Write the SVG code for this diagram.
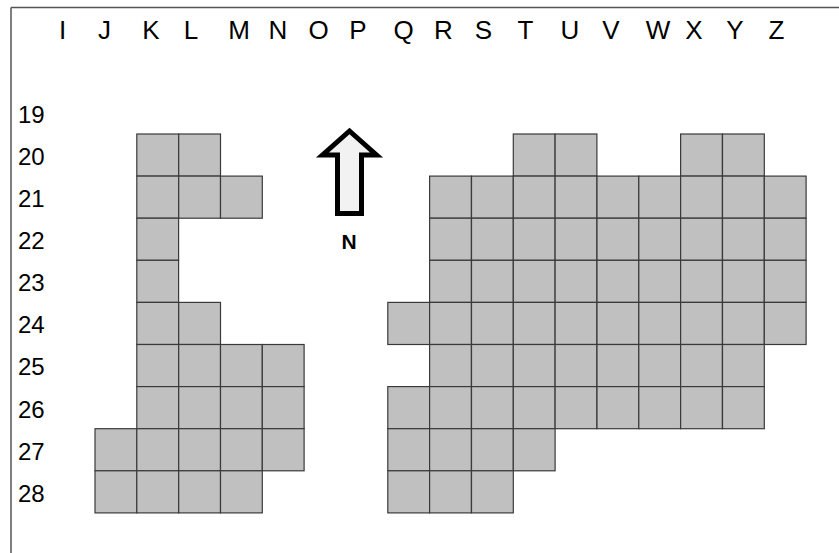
<svg xmlns="http://www.w3.org/2000/svg" width="839" height="553" viewBox="0 0 839 553">
<style>
  .c { fill: #c0c0c0; stroke: #3a3a3a; stroke-width: 1.2; }
  .h { font-family: "Liberation Sans", Arial, sans-serif; font-size: 26px; fill: #000; text-anchor: middle; }
  .r { font-family: "Liberation Sans", Arial, sans-serif; font-size: 24px; fill: #000; }
  .n { font-family: "Liberation Sans", Arial, sans-serif; font-size: 21px; font-weight: bold; fill: #000; text-anchor: middle; }
  .b { stroke: #555; stroke-width: 1.5; fill: none; }
</style>
<rect x="0" y="0" width="839" height="553" fill="#fff"/>
<g id="frame">
  <line class="b" x1="11" y1="7.5" x2="839" y2="7.5"/>
  <line class="b" x1="11" y1="7.5" x2="11" y2="553"/>
</g>
<g id="column-labels">
  <text class="h" x="62.5" y="39">I</text>
  <text class="h" x="104.5" y="39">J</text>
  <text class="h" x="151" y="39">K</text>
  <text class="h" x="191" y="39">L</text>
  <text class="h" x="239" y="39">M</text>
  <text class="h" x="278" y="39">N</text>
  <text class="h" x="318.5" y="39">O</text>
  <text class="h" x="358" y="39">P</text>
  <text class="h" x="403.5" y="39">Q</text>
  <text class="h" x="443.5" y="39">R</text>
  <text class="h" x="483.5" y="39">S</text>
  <text class="h" x="525.5" y="39">T</text>
  <text class="h" x="570" y="39">U</text>
  <text class="h" x="611" y="39">V</text>
  <text class="h" x="658" y="39">W</text>
  <text class="h" x="694" y="39">X</text>
  <text class="h" x="735" y="39">Y</text>
  <text class="h" x="776.5" y="39">Z</text>
</g>
<g id="row-labels">
  <text class="r" x="18" y="122.8">19</text>
  <text class="r" x="18" y="164.9">20</text>
  <text class="r" x="18" y="207">21</text>
  <text class="r" x="18" y="249.1">22</text>
  <text class="r" x="18" y="291.2">23</text>
  <text class="r" x="18" y="333.3">24</text>
  <text class="r" x="18" y="375.4">25</text>
  <text class="r" x="18" y="417.5">26</text>
  <text class="r" x="18" y="459.6">27</text>
  <text class="r" x="18" y="501.7">28</text>
</g>
<g id="left-block">
  <rect class="c" x="136.8" y="134" width="41.8" height="42.1"/>
  <rect class="c" x="178.7" y="134" width="41.8" height="42.1"/>
  <rect class="c" x="136.8" y="176.1" width="41.8" height="42.1"/>
  <rect class="c" x="178.7" y="176.1" width="41.8" height="42.1"/>
  <rect class="c" x="220.5" y="176.1" width="41.8" height="42.1"/>
  <rect class="c" x="136.8" y="218.2" width="41.8" height="42.1"/>
  <rect class="c" x="136.8" y="260.3" width="41.8" height="42.1"/>
  <rect class="c" x="136.8" y="302.4" width="41.8" height="42.1"/>
  <rect class="c" x="178.7" y="302.4" width="41.8" height="42.1"/>
  <rect class="c" x="136.8" y="344.5" width="41.8" height="42.1"/>
  <rect class="c" x="178.7" y="344.5" width="41.8" height="42.1"/>
  <rect class="c" x="220.5" y="344.5" width="41.8" height="42.1"/>
  <rect class="c" x="262.3" y="344.5" width="41.8" height="42.1"/>
  <rect class="c" x="136.8" y="386.6" width="41.8" height="42.1"/>
  <rect class="c" x="178.7" y="386.6" width="41.8" height="42.1"/>
  <rect class="c" x="220.5" y="386.6" width="41.8" height="42.1"/>
  <rect class="c" x="262.3" y="386.6" width="41.8" height="42.1"/>
  <rect class="c" x="95" y="428.7" width="41.8" height="42.1"/>
  <rect class="c" x="136.8" y="428.7" width="41.8" height="42.1"/>
  <rect class="c" x="178.7" y="428.7" width="41.8" height="42.1"/>
  <rect class="c" x="220.5" y="428.7" width="41.8" height="42.1"/>
  <rect class="c" x="262.3" y="428.7" width="41.8" height="42.1"/>
  <rect class="c" x="95" y="470.8" width="41.8" height="42.1"/>
  <rect class="c" x="136.8" y="470.8" width="41.8" height="42.1"/>
  <rect class="c" x="178.7" y="470.8" width="41.8" height="42.1"/>
  <rect class="c" x="220.5" y="470.8" width="41.8" height="42.1"/>
</g>
<g id="right-block">
  <rect class="c" x="513.3" y="134" width="41.8" height="42.1"/>
  <rect class="c" x="555.1" y="134" width="41.8" height="42.1"/>
  <rect class="c" x="680.6" y="134" width="41.8" height="42.1"/>
  <rect class="c" x="722.5" y="134" width="41.8" height="42.1"/>
  <rect class="c" x="429.6" y="176.1" width="41.8" height="42.1"/>
  <rect class="c" x="471.5" y="176.1" width="41.8" height="42.1"/>
  <rect class="c" x="513.3" y="176.1" width="41.8" height="42.1"/>
  <rect class="c" x="555.1" y="176.1" width="41.8" height="42.1"/>
  <rect class="c" x="597" y="176.1" width="41.8" height="42.1"/>
  <rect class="c" x="638.8" y="176.1" width="41.8" height="42.1"/>
  <rect class="c" x="680.6" y="176.1" width="41.8" height="42.1"/>
  <rect class="c" x="722.5" y="176.1" width="41.8" height="42.1"/>
  <rect class="c" x="764.3" y="176.1" width="41.8" height="42.1"/>
  <rect class="c" x="429.6" y="218.2" width="41.8" height="42.1"/>
  <rect class="c" x="471.5" y="218.2" width="41.8" height="42.1"/>
  <rect class="c" x="513.3" y="218.2" width="41.8" height="42.1"/>
  <rect class="c" x="555.1" y="218.2" width="41.8" height="42.1"/>
  <rect class="c" x="597" y="218.2" width="41.8" height="42.1"/>
  <rect class="c" x="638.8" y="218.2" width="41.8" height="42.1"/>
  <rect class="c" x="680.6" y="218.2" width="41.8" height="42.1"/>
  <rect class="c" x="722.5" y="218.2" width="41.8" height="42.1"/>
  <rect class="c" x="764.3" y="218.2" width="41.8" height="42.1"/>
  <rect class="c" x="429.6" y="260.3" width="41.8" height="42.1"/>
  <rect class="c" x="471.5" y="260.3" width="41.8" height="42.1"/>
  <rect class="c" x="513.3" y="260.3" width="41.8" height="42.1"/>
  <rect class="c" x="555.1" y="260.3" width="41.8" height="42.1"/>
  <rect class="c" x="597" y="260.3" width="41.8" height="42.1"/>
  <rect class="c" x="638.8" y="260.3" width="41.8" height="42.1"/>
  <rect class="c" x="680.6" y="260.3" width="41.8" height="42.1"/>
  <rect class="c" x="722.5" y="260.3" width="41.8" height="42.1"/>
  <rect class="c" x="764.3" y="260.3" width="41.8" height="42.1"/>
  <rect class="c" x="387.8" y="302.4" width="41.8" height="42.1"/>
  <rect class="c" x="429.6" y="302.4" width="41.8" height="42.1"/>
  <rect class="c" x="471.5" y="302.4" width="41.8" height="42.1"/>
  <rect class="c" x="513.3" y="302.4" width="41.8" height="42.1"/>
  <rect class="c" x="555.1" y="302.4" width="41.8" height="42.1"/>
  <rect class="c" x="597" y="302.4" width="41.8" height="42.1"/>
  <rect class="c" x="638.8" y="302.4" width="41.8" height="42.1"/>
  <rect class="c" x="680.6" y="302.4" width="41.8" height="42.1"/>
  <rect class="c" x="722.5" y="302.4" width="41.8" height="42.1"/>
  <rect class="c" x="764.3" y="302.4" width="41.8" height="42.1"/>
  <rect class="c" x="429.6" y="344.5" width="41.8" height="42.1"/>
  <rect class="c" x="471.5" y="344.5" width="41.8" height="42.1"/>
  <rect class="c" x="513.3" y="344.5" width="41.8" height="42.1"/>
  <rect class="c" x="555.1" y="344.5" width="41.8" height="42.1"/>
  <rect class="c" x="597" y="344.5" width="41.8" height="42.1"/>
  <rect class="c" x="638.8" y="344.5" width="41.8" height="42.1"/>
  <rect class="c" x="680.6" y="344.5" width="41.8" height="42.1"/>
  <rect class="c" x="722.5" y="344.5" width="41.8" height="42.1"/>
  <rect class="c" x="387.8" y="386.6" width="41.8" height="42.1"/>
  <rect class="c" x="429.6" y="386.6" width="41.8" height="42.1"/>
  <rect class="c" x="471.5" y="386.6" width="41.8" height="42.1"/>
  <rect class="c" x="513.3" y="386.6" width="41.8" height="42.1"/>
  <rect class="c" x="555.1" y="386.6" width="41.8" height="42.1"/>
  <rect class="c" x="597" y="386.6" width="41.8" height="42.1"/>
  <rect class="c" x="638.8" y="386.6" width="41.8" height="42.1"/>
  <rect class="c" x="680.6" y="386.6" width="41.8" height="42.1"/>
  <rect class="c" x="722.5" y="386.6" width="41.8" height="42.1"/>
  <rect class="c" x="387.8" y="428.7" width="41.8" height="42.1"/>
  <rect class="c" x="429.6" y="428.7" width="41.8" height="42.1"/>
  <rect class="c" x="471.5" y="428.7" width="41.8" height="42.1"/>
  <rect class="c" x="513.3" y="428.7" width="41.8" height="42.1"/>
  <rect class="c" x="387.8" y="470.8" width="41.8" height="42.1"/>
  <rect class="c" x="429.6" y="470.8" width="41.8" height="42.1"/>
  <rect class="c" x="471.5" y="470.8" width="41.8" height="42.1"/>
</g>
<g id="north-arrow">
  <polygon points="349.5,131 376.5,155 361.5,155 361.5,213.5 337.5,213.5 337.5,155 322.5,155" fill="#f2f2f2" stroke="#000" stroke-width="5" stroke-linejoin="miter"/>
  <text class="n" x="349" y="249">N</text>
</g>
</svg>
